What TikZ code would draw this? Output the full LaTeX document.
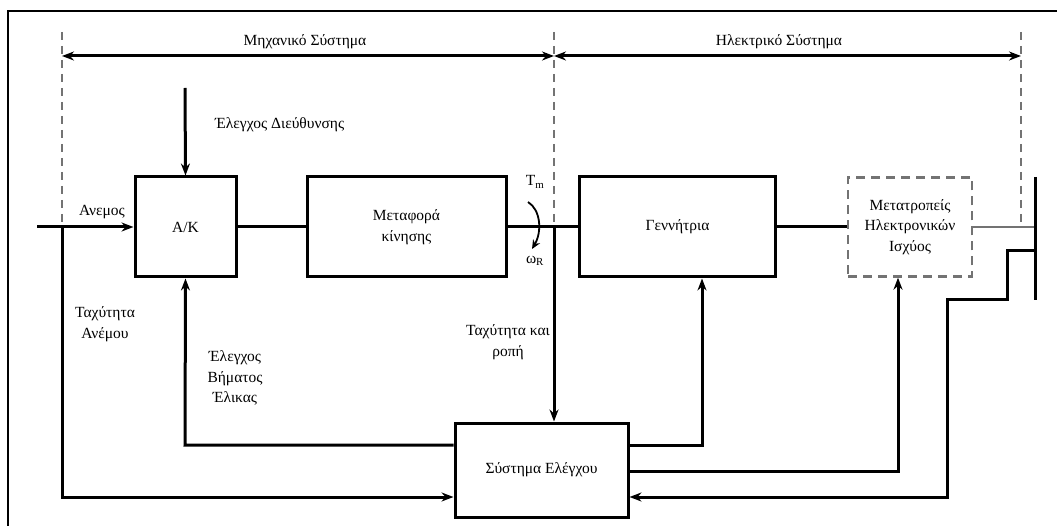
\documentclass[tikz,border=0pt]{standalone}
\usepackage{fontspec}
\setmainfont{Liberation Serif}
\usetikzlibrary{arrows.meta}
\begin{document}
\begin{tikzpicture}[x=1pt,y=-1pt,
  txt/.style={font=\fontsize{15.5}{20.5}\selectfont, inner sep=0pt, align=center},
  blk/.style={draw, line width=3pt, inner sep=0pt, txt},
  ln/.style={line width=3pt},
  arr/.style={line width=3pt, -{Stealth[length=12pt,width=9pt]}},
  darr/.style={line width=3pt, {Stealth[length=12pt,width=9pt]}-{Stealth[length=12pt,width=9pt]}},
  dsh/.style={draw=black!55, line width=2.4pt, dash pattern=on 8pt off 6pt},
  thinln/.style={draw=black!55, line width=1.8pt}
]
\useasboundingbox (0,0) rectangle (1057,526);
% frame
\draw[line width=2.4pt] (8,526) -- (8,11) -- (1057,11);

% blocks
\node[blk, minimum width=101pt, minimum height=100pt] (ak) at (185.5,227) {Α/Κ};
\node[blk, minimum width=199pt, minimum height=100pt] (mt) at (406.5,227) {Μεταφορά\\κίνησης};
\node[blk, minimum width=196pt, minimum height=100pt] (gen) at (677.5,227) {Γεννήτρια};
\node[txt, draw=black!55, line width=2.4pt, dash pattern=on 9pt off 6pt, minimum width=124pt, minimum height=99pt] (conv) at (910,227) {Μετατροπείς\\Ηλεκτρονικών\\Ισχύος};
\node[blk, minimum width=173pt, minimum height=94pt] (ctrl) at (541.5,470) {Σύστημα Ελέγχου};

% coordinates
\coordinate (d1t) at (62,32);
\coordinate (d2t) at (554,32);
\coordinate (d3t) at (1021,32);
\coordinate (a1) at (62,56);
\coordinate (a2) at (554,56);
\coordinate (a3) at (1021,56);
\coordinate (wind0) at (37,227);
\coordinate (wj) at (62,227);
\coordinate (ws) at (62,497);
\coordinate (dir0) at (185,88);
\coordinate (p1) at (185,445);
\coordinate (sj) at (554,227);
\coordinate (g1) at (702,445);
\coordinate (c1) at (898,471);
\coordinate (bus1) at (1035,177);
\coordinate (bus2) at (1035,300);
\coordinate (gr0) at (1035,251);
\coordinate (gr1) at (947,497);
\coordinate (d3b) at (1021,227);

% dashed system borders
\draw[dsh] (d1t) -- (wj);
\draw[dsh] (d2t) -- (sj);
\draw[dsh] (d3t) -- (d3b);
\draw[darr] (a1) -- (a2);
\draw[darr] (a2) -- (a3);
\node[txt] (lmech) at (305,42) {Μηχανικό Σύστημα};
\node[txt] (lelec) at (779,42) {Ηλεκτρικό Σύστημα};

% wind
\draw[ln] (wind0) -- (wj);
\draw[arr] (wj) -- (ak.west);
\draw[arr] (wj) -- (ws) -- (ws -| ctrl.west);
\node[txt] (lwind) at (102,212) {Ανεμος};
\node[txt] (lws) at (105,324) {Ταχύτητα\\Ανέμου};

% direction control
\draw[arr] (dir0) -- (ak.north);
\node[txt, anchor=west] (ldir) at (215,125) {Έλεγχος Διεύθυνσης};

% pitch control
\draw[arr] (p1 -| ctrl.west) -- (p1) -- (ak.south);
\node[txt] (lpitch) at (235,378) {Έλεγχος\\Βήματος\\Έλικας};

% drive train
\draw[ln] (ak.east) -- (mt.west);
\draw[ln] (mt.east) -- (gen.west);
\draw[arr] (sj) -- (sj |- ctrl.north);
\node[txt] (lsp) at (508,342) {Ταχύτητα και\\ροπή};
\node[txt] (ltm) at (535,182) {T\textsubscript{m}};
\node[txt] (lwr) at (535,261) {ω\textsubscript{R}};
\coordinate (cv0) at (528,202);
\coordinate (cv1) at (532,249);
\draw[line width=1.8pt, -{Stealth[length=9pt,width=8pt]}] (cv0) .. controls (541,210) and (542,232) .. (cv1);

% generator / converter / grid
\draw[ln] (gen.east) -- (conv.west);
\draw[thinln] (conv.east) -- (conv.east -| bus1);
\draw[ln] (bus1) -- (bus2);
\draw[arr] (ctrl.east |- g1) -- (g1) -- (g1 |- gen.south);
\draw[arr] (ctrl.east |- c1) -- (c1) -- (c1 |- conv.south);
\draw[arr] (gr0) -- (1007,251) -- (1007,300) -- (947,300) -- (gr1) -- (gr1 -| ctrl.east);
\end{tikzpicture}
\end{document}
